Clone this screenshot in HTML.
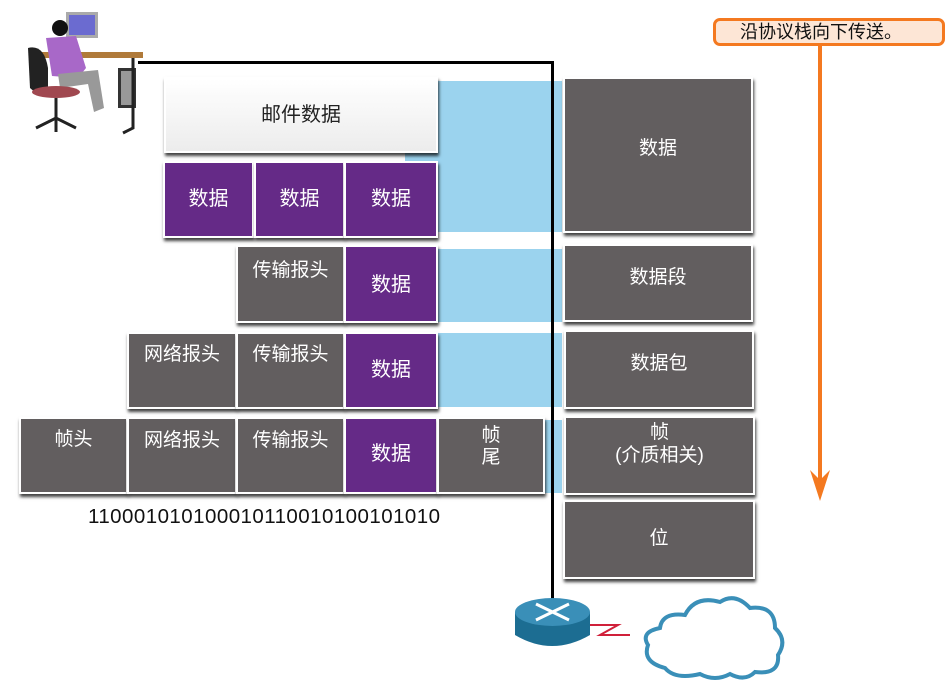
<!DOCTYPE html>
<html><head><meta charset="utf-8"><style>
body{margin:0;width:949px;height:681px;background:#fff;position:relative;overflow:hidden;font-family:"Liberation Sans","Noto Sans CJK SC",sans-serif}
.a{position:absolute;box-sizing:border-box}
.b{position:absolute;box-sizing:border-box;border:2px solid #fff;box-shadow:1px 3px 3px rgba(0,0,0,.75);color:#fff;font-size:19px;text-align:center}
.g{background:#625e5f}
.p{background:#652a87;font-size:20px}
.blue{position:absolute;background:#9bd3ee}
</style></head><body>
<div class="blue" style="left:405px;top:81px;width:157px;height:151px"></div>
<div class="blue" style="left:437px;top:249px;width:125px;height:73px"></div>
<div class="blue" style="left:437px;top:333px;width:125px;height:74px"></div>
<div class="blue" style="left:437px;top:420px;width:125px;height:73px"></div>

<div class="a" style="left:138px;top:61px;width:416px;height:3px;background:#000"></div>
<div class="a" style="left:551px;top:61px;width:3px;height:542px;background:#000"></div>

<div class="b" style="left:164px;top:77px;width:274px;height:76px;background:linear-gradient(#fff,#ececec);color:#222;line-height:72px;font-size:20px">邮件数据</div>

<div class="b p" style="left:163px;top:161px;width:91px;height:77px;line-height:73px">数据</div>
<div class="b p" style="left:254px;top:161px;width:91px;height:77px;line-height:73px">数据</div>
<div class="b p" style="left:344px;top:161px;width:94px;height:77px;line-height:73px">数据</div>

<div class="b g" style="left:236px;top:245px;width:109px;height:78px;padding-top:8px">传输报头</div>
<div class="b p" style="left:344px;top:245px;width:94px;height:78px;line-height:76px">数据</div>

<div class="b g" style="left:127px;top:332px;width:110px;height:77px;padding-top:5px">网络报头</div>
<div class="b g" style="left:236px;top:332px;width:109px;height:77px;padding-top:5px">传输报头</div>
<div class="b p" style="left:344px;top:332px;width:94px;height:77px;line-height:73px">数据</div>

<div class="b g" style="left:19px;top:417px;width:109px;height:77px;padding-top:5px">帧头</div>
<div class="b g" style="left:127px;top:417px;width:110px;height:77px;padding-top:6px">网络报头</div>
<div class="b g" style="left:236px;top:417px;width:109px;height:77px;padding-top:6px">传输报头</div>
<div class="b p" style="left:344px;top:417px;width:94px;height:77px;line-height:71px">数据</div>
<div class="b g" style="left:437px;top:417px;width:108px;height:77px;padding-top:6px;line-height:22px">帧<br>尾</div>

<div class="a" style="left:88px;top:505px;font-size:20.5px;color:#111;letter-spacing:0.45px">110001010100010110010100101010</div>

<div class="b g" style="left:563px;top:77px;width:190px;height:156px;line-height:140px">数据</div>
<div class="b g" style="left:563px;top:244px;width:190px;height:78px;padding-top:16px">数据段</div>
<div class="b g" style="left:564px;top:330px;width:190px;height:79px;padding-top:16px">数据包</div>
<div class="b g" style="left:564px;top:416px;width:191px;height:79px;padding-top:3px;line-height:23px">帧<br>(介质相关)</div>
<div class="b g" style="left:563px;top:500px;width:192px;height:79px;line-height:73px">位</div>

<div class="a" style="left:713px;top:18px;width:232px;height:28px;border:3px solid #f47920;border-radius:7px;background:#fde6d6;font-size:18px;line-height:22px;padding-left:24px;color:#111">沿协议栈向下传送。</div>
<div class="a" style="left:818px;top:46px;width:4px;height:440px;background:#f47920"></div>
<svg class="a" style="left:808px;top:470px" width="24" height="32"><polygon points="2,0 12,10 22,0 12,31" fill="#f47920"/></svg>

<svg class="a" style="left:18px;top:8px" width="125" height="130">
<rect x="48" y="4" width="32" height="26" fill="#aaa"/><rect x="51" y="7" width="26" height="20" fill="#6b6bd0"/>
<rect x="20" y="44" width="110" height="6" fill="#b07a3a"/>
<rect x="100" y="60" width="18" height="40" fill="#333"/><rect x="103" y="63" width="12" height="34" fill="#999"/>
<circle cx="42" cy="20" r="8" fill="#111"/>
<path d="M28 30 L58 28 L68 60 L60 70 L34 68 Z" fill="#a868c8"/>
<path d="M40 66 L80 62 L86 100 L76 104 L70 76 L42 80 Z" fill="#999"/>
<path d="M10 40 Q26 36 30 60 L30 82 Q20 88 12 80 Z" fill="#222"/>
<ellipse cx="38" cy="84" rx="24" ry="6" fill="#a04850"/>
<path d="M38 90 L38 110 M18 120 L38 110 L58 120 M38 110 L38 124" stroke="#222" stroke-width="3" fill="none"/>
<path d="M115 50 L115 120 L105 125" stroke="#222" stroke-width="3" fill="none"/>
</svg>

<svg class="a" style="left:512px;top:595px" width="82" height="60">
<path d="M3 17 L3 40 Q40 62 78 40 L78 17 Z" fill="#1c6d92"/>
<ellipse cx="40.5" cy="17" rx="37.5" ry="14" fill="#3a8fb8"/>
<path d="M24 9 L57 25 M57 9 L24 25" stroke="#fff" stroke-width="3"/>
</svg>
<svg class="a" style="left:590px;top:618px" width="60" height="20"><polyline points="0,7 28,7 10,17 40,17" fill="none" stroke="#d0203a" stroke-width="2"/></svg>
<svg class="a" style="left:640px;top:590px" width="150" height="91">
<path d="M20 38 Q22 22 45 25 Q55 5 80 12 Q95 2 110 18 Q135 15 135 38 Q148 50 138 65 Q140 85 115 82 Q105 92 90 84 Q75 92 60 84 Q35 90 25 78 Q2 72 8 55 Q0 42 20 38 Z" fill="#fff" stroke="#3a8fb8" stroke-width="4"/>
</svg>
</body></html>
